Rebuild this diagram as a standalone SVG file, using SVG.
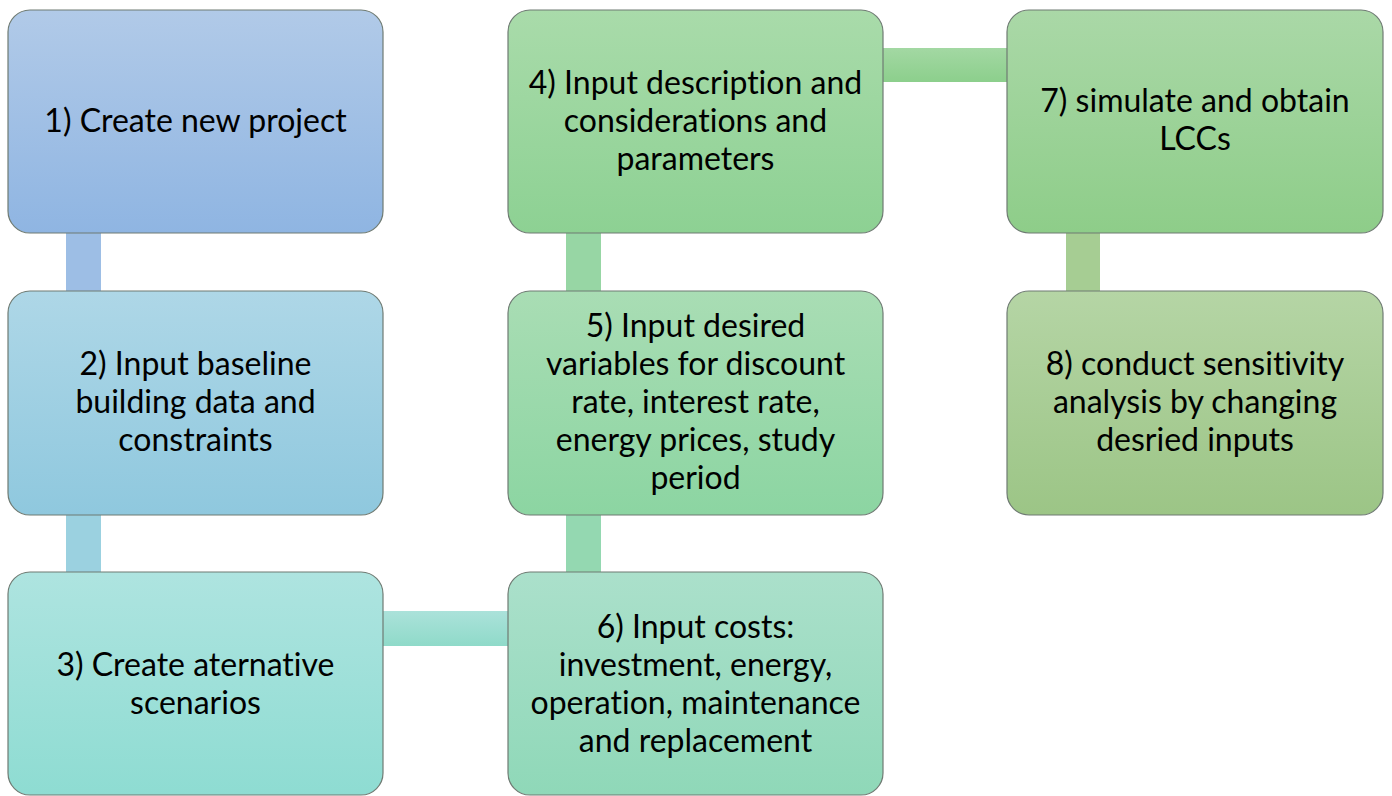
<svg xmlns="http://www.w3.org/2000/svg" width="1392" height="796" viewBox="0 0 1392 796">
<defs>
<linearGradient id="g1" x1="0" y1="0" x2="0" y2="1"><stop offset="0" stop-color="#b1cae8"/><stop offset="1" stop-color="#8fb5e2"/></linearGradient>
<linearGradient id="g2" x1="0" y1="0" x2="0" y2="1"><stop offset="0" stop-color="#aed7e7"/><stop offset="1" stop-color="#8fc8de"/></linearGradient>
<linearGradient id="g3" x1="0" y1="0" x2="0" y2="1"><stop offset="0" stop-color="#aee4e0"/><stop offset="1" stop-color="#8edcd2"/></linearGradient>
<linearGradient id="g4" x1="0" y1="0" x2="0" y2="1"><stop offset="0" stop-color="#a9dbaa"/><stop offset="1" stop-color="#8dd193"/></linearGradient>
<linearGradient id="g5" x1="0" y1="0" x2="0" y2="1"><stop offset="0" stop-color="#a9ddb4"/><stop offset="1" stop-color="#8cd5a2"/></linearGradient>
<linearGradient id="g6" x1="0" y1="0" x2="0" y2="1"><stop offset="0" stop-color="#abe0cb"/><stop offset="1" stop-color="#8fd8b8"/></linearGradient>
<linearGradient id="g7" x1="0" y1="0" x2="0" y2="1"><stop offset="0" stop-color="#aad8a7"/><stop offset="1" stop-color="#8ecd89"/></linearGradient>
<linearGradient id="g8" x1="0" y1="0" x2="0" y2="1"><stop offset="0" stop-color="#b5d5a5"/><stop offset="1" stop-color="#9cc586"/></linearGradient>
<linearGradient id="c36" x1="0" y1="0" x2="0" y2="1"><stop offset="0" stop-color="#abe2da"/><stop offset="1" stop-color="#8fdac9"/></linearGradient>
<linearGradient id="c47" x1="0" y1="0" x2="0" y2="1"><stop offset="0" stop-color="#a3d8a3"/><stop offset="1" stop-color="#8ccf8c"/></linearGradient>
</defs>
<style>
.box{stroke:#6f7b73;stroke-width:1.2}
text{font-family:Lato,"Liberation Sans",sans-serif;font-size:32px;fill:#000;text-anchor:middle;font-variant-ligatures:none}
</style>
<g id="connectors">
<rect x="66" y="233" width="35" height="58" fill="#9dbee5"/>
<rect x="66" y="515" width="35" height="57" fill="#9bd1e0"/>
<rect x="383" y="611" width="125" height="35" fill="url(#c36)"/>
<rect x="566" y="233" width="35" height="58" fill="#97d6a4"/>
<rect x="566" y="515" width="35" height="57" fill="#94d8b1"/>
<rect x="883" y="48" width="124" height="34" fill="url(#c47)"/>
<rect x="1066" y="233" width="34" height="58" fill="#a6cd93"/>
</g>
<g id="node1"><rect class="box" x="8" y="10" width="375" height="223" rx="22" fill="url(#g1)"/>
<text x="195.5" y="132">1) Create new project</text></g>
<g id="node2"><rect class="box" x="8" y="291" width="375" height="224" rx="22" fill="url(#g2)"/>
<text x="195.5" y="375">2) Input baseline</text><text x="195.5" y="413">building data and</text><text x="195.5" y="451">constraints</text></g>
<g id="node3"><rect class="box" x="8" y="572" width="375" height="223" rx="22" fill="url(#g3)"/>
<text x="195.5" y="676">3) Create aternative</text><text x="195.5" y="714">scenarios</text></g>
<g id="node4"><rect class="box" x="508" y="10" width="375" height="223" rx="22" fill="url(#g4)"/>
<text x="695.5" y="94">4) Input description and</text><text x="695.5" y="132">considerations and</text><text x="695.5" y="170">parameters</text></g>
<g id="node5"><rect class="box" x="508" y="291" width="375" height="224" rx="22" fill="url(#g5)"/>
<text x="695.5" y="337">5) Input desired</text><text x="695.5" y="375">variables for discount</text><text x="695.5" y="413">rate, interest rate,</text><text x="695.5" y="451">energy prices, study</text><text x="695.5" y="489">period</text></g>
<g id="node6"><rect class="box" x="508" y="572" width="375" height="223" rx="22" fill="url(#g6)"/>
<text x="695.5" y="638">6) Input costs:</text><text x="695.5" y="676">investment, energy,</text><text x="695.5" y="714">operation, maintenance</text><text x="695.5" y="752">and replacement</text></g>
<g id="node7"><rect class="box" x="1007" y="10" width="376" height="223" rx="22" fill="url(#g7)"/>
<text x="1195" y="112">7) simulate and obtain</text><text x="1195" y="150">LCCs</text></g>
<g id="node8"><rect class="box" x="1007" y="291" width="376" height="224" rx="22" fill="url(#g8)"/>
<text x="1195" y="375">8) conduct sensitivity</text><text x="1195" y="413">analysis by changing</text><text x="1195" y="451">desried inputs</text></g>
</svg>
